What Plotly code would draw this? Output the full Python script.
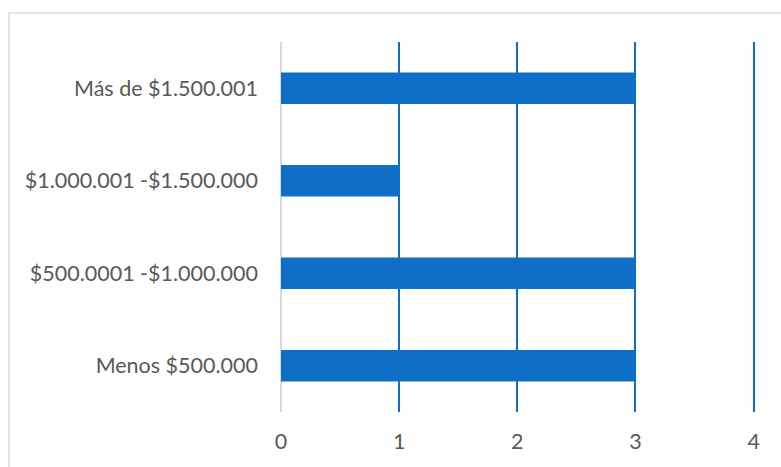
import plotly.graph_objects as go

# Income brackets (bottom to top) and respondent counts
categorias = ["Menos $500.000", "$500.0001 -$1.000.000", "$1.000.001 -$1.500.000", "Más de $1.500.001"]
valores = [3, 3, 1, 3]
ticks_x = [0, 1, 2, 3, 4]

AZUL = "#0F6FC6"
GRIS_TEXTO = "#595959"
FUENTE = 21.5

X_MAX = 4.02  # slightly past 4 so the last gridline is drawn

fig = go.Figure(
    go.Bar(
        x=valores,
        y=categorias,
        orientation="h",
        marker=dict(color=AZUL, line=dict(width=0)),
        width=0.34,
    )
)

fig.update_layout(
    width=781,
    height=467,
    margin=dict(l=281, r=25, t=42, b=55),
    paper_bgcolor="white",
    plot_bgcolor="white",
    showlegend=False,
    font=dict(family="Lato, Open Sans, sans-serif", size=FUENTE, color=GRIS_TEXTO),
    xaxis=dict(
        range=[0, X_MAX],
        tickvals=ticks_x,
        ticktext=[str(t) for t in ticks_x],
        showgrid=True,
        gridcolor=AZUL,
        gridwidth=1.5,
        zeroline=True,
        zerolinecolor="#D9D9D9",
        zerolinewidth=2,
        showline=False,
        ticks="",
        ticklen=0,
        ticklabelstandoff=14,
        tickfont=dict(size=FUENTE, color=GRIS_TEXTO),
        fixedrange=True,
    ),
    yaxis=dict(
        categoryorder="array",
        categoryarray=categorias,
        range=[-0.5, 3.5],
        showgrid=False,
        zeroline=False,
        showline=False,
        ticks="",
        ticklabelstandoff=22,
        tickfont=dict(size=FUENTE, color=GRIS_TEXTO),
    ),
    shapes=[
        # chart frame (top and left edges visible)
        dict(type="line", xref="paper", yref="paper",
             x0=(9 - 281) / 475, x1=2.0, y0=1 + 29 / 370, y1=1 + 29 / 370,
             line=dict(color="#D9D9D9", width=1.5)),
        dict(type="line", xref="paper", yref="paper",
             x0=(9 - 281) / 475, x1=(9 - 281) / 475, y0=1 + 29 / 370, y1=-1.0,
             line=dict(color="#D9D9D9", width=1.5)),
    ],
)

fig.write_html("out.html")
